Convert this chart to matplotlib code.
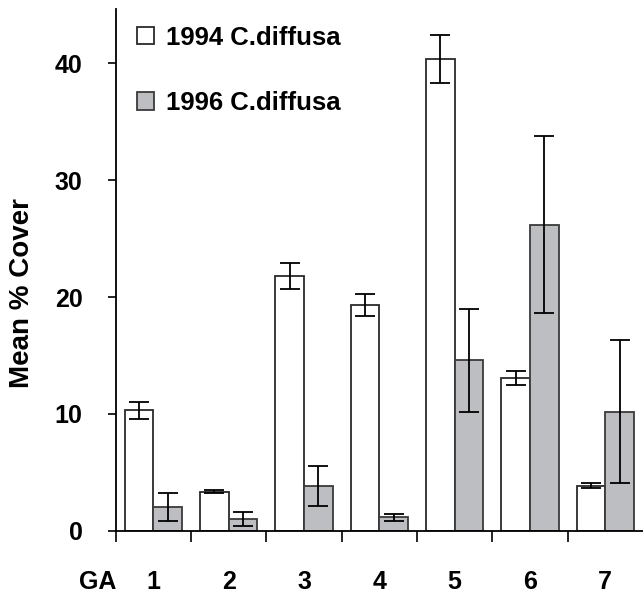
import matplotlib
matplotlib.use("Agg")
import matplotlib.pyplot as plt
import numpy as np

groups = ["1", "2", "3", "4", "5", "6", "7"]
mean_1994 = [10.3, 3.35, 21.8, 19.3, 40.4, 13.1, 3.85]
err_1994 = [0.75, 0.15, 1.15, 0.95, 2.05, 0.6, 0.2]
mean_1996 = [2.0, 1.0, 3.8, 1.15, 14.6, 26.2, 10.2]
err_1996 = [1.2, 0.6, 1.7, 0.3, 4.4, 7.6, 6.1]
labels = ["1994 C.diffusa", "1996 C.diffusa"]
yticks = [0, 10, 20, 30, 40]

plt.rcParams['font.family'] = ['Liberation Sans', 'DejaVu Sans']
plt.rcParams['font.weight'] = 'bold'

fig = plt.figure(figsize=(6.43, 5.95), dpi=100)
ax = fig.add_axes([0.18, 0.108, 0.82, 0.877])

x = np.arange(len(groups))
w = 0.38
ekw = dict(ecolor='black', elinewidth=1.3, capthick=1.3, capsize=7)
b1 = ax.bar(x - w / 2, mean_1994, w, yerr=err_1994, color='white',
            edgecolor='#2a2a2a', linewidth=1.3, error_kw=ekw, label=labels[0])
b2 = ax.bar(x + w / 2, mean_1996, w, yerr=err_1996, color='#bdbec2',
            edgecolor='#3a3a3a', linewidth=1.3, error_kw=ekw, label=labels[1])

ax.set_xlim(-0.5, 6.5)
ax.set_ylim(0, 44.65)

for s in ['top', 'right']:
    ax.spines[s].set_visible(False)
for s in ['left', 'bottom']:
    ax.spines[s].set_linewidth(1.3)

ax.set_yticks(yticks)
ax.set_yticklabels([str(t) for t in yticks], fontsize=18, fontweight='bold')
ax.tick_params(axis='y', direction='out', length=6, width=1.2, pad=18)

ax.set_xticks(np.arange(-0.5, 6.0, 1.0))
ax.set_xticklabels([])
ax.set_xticks(x, minor=True)
ax.set_xticklabels(groups, minor=True, fontsize=18, fontweight='bold')
ax.tick_params(axis='x', which='major', direction='out', length=8, width=1.2)
ax.tick_params(axis='x', which='minor', length=0, pad=28)

ax.text(-0.74, -0.075, "GA", transform=ax.get_xaxis_transform(),
        ha='center', va='top', fontsize=18, fontweight='bold', clip_on=False)

ax.set_ylabel("Mean % Cover", fontsize=20, fontweight='bold')
ax.yaxis.set_label_coords(-0.153, 0.456)

leg = ax.legend(handles=[b1, b2], loc='upper left', bbox_to_anchor=(0.008, 1.0),
                frameon=False, fontsize=18.5, handlelength=0.68, handleheight=0.68,
                handletextpad=0.45, labelspacing=1.6, borderaxespad=0.25)
for t in leg.get_texts():
    t.set_fontweight('bold')

fig.savefig("out.png", dpi=100)
